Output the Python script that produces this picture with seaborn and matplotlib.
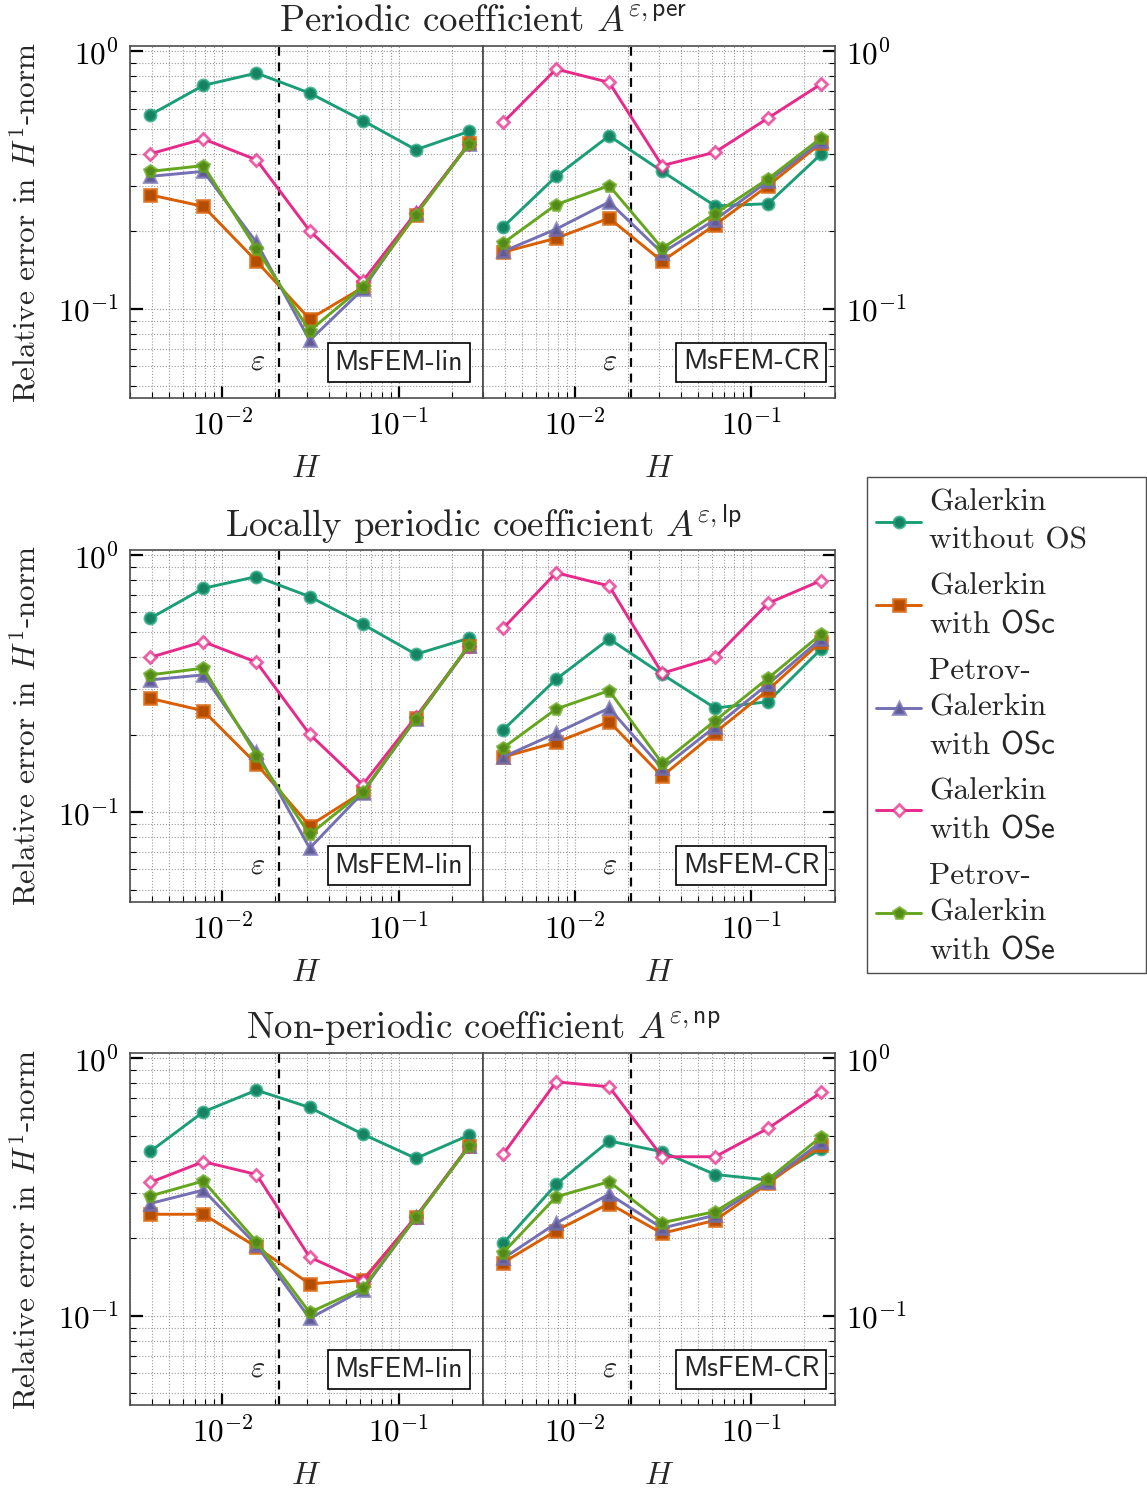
import numpy as np
import pandas as pd
import matplotlib
matplotlib.use("Agg")
import matplotlib.pyplot as plt
import matplotlib.colors as mcolors
from matplotlib.patches import Rectangle
import seaborn as sns

# ---------------- data ----------------
H = [0.00390625, 0.0078125, 0.015625, 0.03125, 0.0625, 0.125, 0.25]
EPS = 1 / 48

SERIES = ["Galerkin\nwithout OS", "Galerkin\nwith $\\mathsf{OSc}$",
          "Petrov-\nGalerkin\nwith $\\mathsf{OSc}$", "Galerkin\nwith $\\mathsf{OSe}$",
          "Petrov-\nGalerkin\nwith $\\mathsf{OSe}$"]
COLORS = ["#1b9e77", "#d95f02", "#7570b3", "#e7298a", "#66a61e"]
MARKERS = ["o", "s", "^", "D", "p"]

TITLES = ["Periodic coefficient $A^{\\varepsilon,\\mathsf{per}}$",
          "Locally periodic coefficient $A^{\\varepsilon,\\mathsf{lp}}$",
          "Non-periodic coefficient $A^{\\varepsilon,\\mathsf{np}}$"]
METHODS = ["MsFEM-lin", "MsFEM-CR"]

# periodic, MsFEM-lin
PER_LIN_G = [0.567, 0.738, 0.824, 0.689, 0.539, 0.415, 0.489]
PER_LIN_GOSC = [0.277, 0.250, 0.153, 0.0912, 0.121, 0.232, 0.440]
PER_LIN_PGOSC = [0.327, 0.342, 0.181, 0.0753, 0.119, 0.236, 0.435]
PER_LIN_GOSE = [0.400, 0.457, 0.379, 0.201, 0.128, 0.236, 0.438]
PER_LIN_PGOSE = [0.342, 0.360, 0.171, 0.0821, 0.122, 0.232, 0.438]
# periodic, MsFEM-CR
PER_CR_G = [0.208, 0.327, 0.470, 0.342, 0.251, 0.256, 0.399]
PER_CR_GOSC = [0.166, 0.188, 0.225, 0.153, 0.212, 0.301, 0.440]
PER_CR_PGOSC = [0.167, 0.204, 0.260, 0.165, 0.222, 0.313, 0.447]
PER_CR_GOSE = [0.530, 0.854, 0.758, 0.360, 0.406, 0.551, 0.747]
PER_CR_PGOSE = [0.180, 0.254, 0.301, 0.172, 0.234, 0.320, 0.461]
# locally periodic, MsFEM-lin
LP_LIN_G = [0.567, 0.742, 0.824, 0.689, 0.538, 0.411, 0.475]
LP_LIN_GOSC = [0.277, 0.248, 0.154, 0.0887, 0.120, 0.232, 0.443]
LP_LIN_PGOSC = [0.327, 0.342, 0.172, 0.0725, 0.119, 0.231, 0.443]
LP_LIN_GOSE = [0.400, 0.460, 0.383, 0.201, 0.128, 0.235, 0.443]
LP_LIN_PGOSE = [0.342, 0.363, 0.166, 0.082, 0.120, 0.231, 0.447]
# locally periodic, MsFEM-CR
LP_CR_G = [0.209, 0.329, 0.472, 0.344, 0.254, 0.269, 0.431]
LP_CR_GOSC = [0.164, 0.187, 0.225, 0.138, 0.204, 0.299, 0.460]
LP_CR_PGOSC = [0.164, 0.203, 0.254, 0.148, 0.215, 0.315, 0.472]
LP_CR_GOSE = [0.519, 0.853, 0.758, 0.347, 0.400, 0.649, 0.795]
LP_CR_PGOSE = [0.178, 0.252, 0.297, 0.155, 0.227, 0.332, 0.492]
# non-periodic, MsFEM-lin
NP_LIN_G = [0.435, 0.620, 0.753, 0.645, 0.508, 0.409, 0.503]
NP_LIN_GOSC = [0.248, 0.248, 0.185, 0.133, 0.138, 0.241, 0.456]
NP_LIN_PGOSC = [0.273, 0.308, 0.188, 0.0977, 0.126, 0.241, 0.455]
NP_LIN_GOSE = [0.330, 0.397, 0.354, 0.169, 0.136, 0.243, 0.458]
NP_LIN_PGOSE = [0.292, 0.334, 0.194, 0.103, 0.128, 0.241, 0.456]
# non-periodic, MsFEM-CR
NP_CR_G = [0.191, 0.324, 0.478, 0.434, 0.354, 0.337, 0.444]
NP_CR_GOSC = [0.161, 0.214, 0.273, 0.209, 0.235, 0.327, 0.460]
NP_CR_PGOSC = [0.167, 0.229, 0.297, 0.219, 0.246, 0.332, 0.474]
NP_CR_GOSE = [0.425, 0.811, 0.776, 0.415, 0.415, 0.535, 0.738]
NP_CR_PGOSE = [0.176, 0.290, 0.332, 0.230, 0.254, 0.339, 0.496]

PANELS = [
    [[PER_LIN_G, PER_LIN_GOSC, PER_LIN_PGOSC, PER_LIN_GOSE, PER_LIN_PGOSE],
     [PER_CR_G, PER_CR_GOSC, PER_CR_PGOSC, PER_CR_GOSE, PER_CR_PGOSE]],
    [[LP_LIN_G, LP_LIN_GOSC, LP_LIN_PGOSC, LP_LIN_GOSE, LP_LIN_PGOSE],
     [LP_CR_G, LP_CR_GOSC, LP_CR_PGOSC, LP_CR_GOSE, LP_CR_PGOSE]],
    [[NP_LIN_G, NP_LIN_GOSC, NP_LIN_PGOSC, NP_LIN_GOSE, NP_LIN_PGOSE],
     [NP_CR_G, NP_CR_GOSC, NP_CR_PGOSC, NP_CR_GOSE, NP_CR_PGOSE]],
]

# ---------------- style ----------------
sns.set_theme(style="ticks")
plt.rcParams["font.family"] = ["cmr10", "DejaVu Serif"]
plt.rcParams["mathtext.fontset"] = "cm"
plt.rcParams["axes.formatter.use_mathtext"] = True
plt.rcParams["axes.unicode_minus"] = False

W, Hpx = 1147, 1490
fig = plt.figure(figsize=(W / 100, Hpx / 100), dpi=100)

row_tops = [46, 549.5, 1053]
ax_h = 352
col_lefts = [130, 483]
col_w = [353, 352]

SPINE = "0.3"
legend_handles = []

def darken(c, f):
    r, g, b = mcolors.to_rgb(c)
    return (r * f, g * f, b * f)

for r in range(3):
    top = row_tops[r]
    for cidx in range(2):
        left = col_lefts[cidx]
        ax = fig.add_axes([left / W, 1 - (top + ax_h) / Hpx, col_w[cidx] / W, ax_h / Hpx])
        ax.set_xscale("log")
        ax.set_yscale("log")
        for k in range(5):
            vals = PANELS[r][cidx][k]
            col = COLORS[k]
            if MARKERS[k] == "D":
                mfc = "white"
                ms = 6.5
            else:
                mfc = darken(col, 0.82)
                ms = 8.5 if MARKERS[k] != "o" else 8
            mec = mcolors.to_rgba(col, 0.75)
            sns.lineplot(x=H, y=vals, ax=ax, color=col, marker=MARKERS[k],
                         markersize=ms, linewidth=2.1, markerfacecolor=mfc,
                         markeredgecolor=mec, markeredgewidth=2.0, legend=False,
                         zorder=3 + k)
            if r == 0 and cidx == 0:
                legend_handles.append(ax.lines[-1])
        ax.axvline(EPS, color="black", linestyle=(0, (4, 3)), linewidth=1.6, zorder=2)
        ax.set_xlim(0.003, 0.3)
        ax.set_ylim(0.045, 1.05)
        ax.set_axisbelow(True)
        ax.grid(True, which="both", linestyle=":", color="0.6", linewidth=0.8)
        ax.tick_params(which="both", direction="in", top=False, bottom=True,
                       left=(cidx == 0), right=(cidx == 1),
                       labelleft=(cidx == 0), labelright=(cidx == 1 and r != 1),
                       labelsize=22.5, colors="black")
        ax.tick_params(which="major", length=9, width=1.6, pad=8)
        ax.tick_params(which="minor", length=4.5, width=0.8)
        for s in ax.spines.values():
            s.set_color(SPINE)
            s.set_linewidth(1.2)
        ax.set_xlabel("$H$", fontsize=23, labelpad=11)
        ax.set_ylabel("")
        # epsilon label
        ax.text(0.0158, 0.102, "$\\varepsilon$", transform=ax.get_xaxis_transform(),
                ha="center", va="center", fontsize=22)
        ax.text(0.762, 0.102, METHODS[cidx], transform=ax.transAxes, ha="center",
                va="center", fontsize=20, family="cmss10", zorder=10,
                bbox=dict(boxstyle="square,pad=0.25", fc="white", ec="black", lw=1.2))
    # title & ylabel
    fig.text(483 / W, 1 - (top - 25) / Hpx, TITLES[r], ha="center", va="center", fontsize=26.5)
    fig.text(27 / W, 1 - (top + ax_h / 2) / Hpx, "Relative error in $H^1$-norm",
             rotation=90, ha="center", va="center", fontsize=22.5)

# legend frame drawn manually to match the fixed-width box
fig.patches.append(Rectangle((867 / W, 1 - 973 / Hpx), (1146 - 867) / W, (973 - 477) / Hpx,
                             transform=fig.transFigure, fill=True, fc="white",
                             ec=SPINE, lw=1.0, zorder=0))
leg = fig.legend(legend_handles, SERIES, loc="upper left",
                 bbox_to_anchor=(876 / W, 1 - 489 / Hpx), fontsize=22.5,
                 frameon=False, borderaxespad=0, handlelength=1.45, handletextpad=0.26,
                 labelspacing=0.6, borderpad=0.0)
for t in leg.get_texts():
    t.set_linespacing(1.42)

fig.savefig("out.png", dpi=100)
